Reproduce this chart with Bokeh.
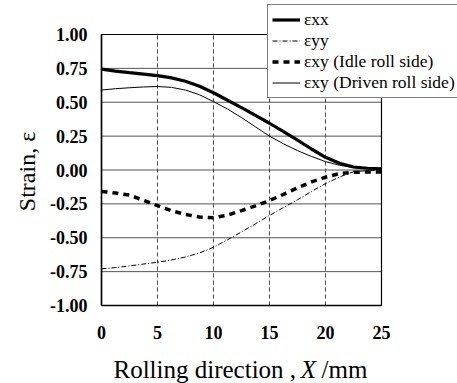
import math
from bokeh.plotting import figure
from bokeh.models import Range1d, Legend, LegendItem, Label, FixedTicker, CustomJSTickFormatter
from bokeh.embed import file_html
from bokeh.resources import INLINE

x = [0, 1.25, 2.5, 3.75, 5, 6.25, 7.5, 8.75, 10, 11.25, 12.5,
     13.75, 15, 16.25, 17.5, 18.75, 20, 21.25, 22.5, 23.75, 25]
exx = [0.744, 0.730, 0.718, 0.708, 0.697, 0.680, 0.655, 0.618, 0.570, 0.515, 0.460,
       0.403, 0.345, 0.283, 0.220, 0.155, 0.094, 0.050, 0.022, 0.013, 0.009]
eyy = [-0.729, -0.720, -0.708, -0.694, -0.681, -0.664, -0.642, -0.612, -0.570, -0.515, -0.457,
       -0.397, -0.335, -0.277, -0.220, -0.158, -0.100, -0.052, -0.012, -0.005, -0.003]
exy_idle = [-0.158, -0.170, -0.185, -0.224, -0.263, -0.300, -0.328, -0.347, -0.352, -0.333, -0.300,
            -0.265, -0.225, -0.180, -0.132, -0.088, -0.053, -0.027, -0.017, -0.015, -0.015]
exy_driven = [0.590, 0.600, 0.607, 0.613, 0.616, 0.610, 0.590, 0.555, 0.505, 0.450, 0.387,
              0.318, 0.250, 0.193, 0.143, 0.100, 0.062, 0.035, 0.018, 0.009, 0.005]

x_ticks = [0, 5, 10, 15, 20, 25]
y_ticks = [-1.0, -0.75, -0.5, -0.25, 0.0, 0.25, 0.5, 0.75, 1.0]
labels = ["εxx", "εyy", "εxy (Idle roll side)", "εxy (Driven roll side)"]

SERIF = "Liberation Serif"
x0, x1 = x_ticks[0], x_ticks[-1]
y0, y1 = y_ticks[0], y_ticks[-1]

# frame covers the whole canvas so the legend, tick labels and titles are not clipped
p = figure(width=457, height=383, output_backend="svg", toolbar_location=None,
           x_range=Range1d(-9.018, 31.786), y_range=Range1d(-1.5756, 1.2509),
           min_border_left=0, min_border_right=0, min_border_top=0, min_border_bottom=0)
p.outline_line_color = None
p.xgrid.visible = False
p.ygrid.visible = False

# grid lines bounded to the data box
gx = x_ticks[1:-1]
p.segment(x0=gx, y0=[y0] * len(gx), x1=gx, y1=[y1] * len(gx),
          line_color="#444444", line_width=1, line_dash="4 3")
gy = y_ticks[1:-1]
p.segment(x0=[x0] * len(gy), y0=gy, x1=[x1] * len(gy), y1=gy,
          line_color="#555555", line_width=1)
p.quad(left=x0, right=x1, bottom=y0, top=y1, fill_color=None,
       line_color="black", line_width=1.2)

r1 = p.line(x, exx, line_color="black", line_width=3.2)
r2 = p.line(x, eyy, line_color="black", line_width=1, line_dash="5 2 1 2")
r3 = p.line(x, exy_idle, line_color="black", line_width=3.5, line_dash="6 5")
r4 = p.line(x, exy_driven, line_color="black", line_width=1)

p.xaxis.ticker = FixedTicker(ticks=x_ticks)
p.yaxis.ticker = FixedTicker(ticks=y_ticks)
p.yaxis.formatter = CustomJSTickFormatter(code="return tick.toFixed(2);")
p.xaxis.bounds = (x0, x1)
p.yaxis.bounds = (y0, y1)
p.xaxis.fixed_location = y0
p.yaxis.fixed_location = x0

for ax in (p.xaxis[0], p.yaxis[0]):
    ax.major_tick_out = 0
    ax.major_tick_in = 0
    ax.minor_tick_out = 0
    ax.minor_tick_in = 0
    ax.axis_line_color = "black"
    ax.axis_line_width = 1.5
    ax.major_label_text_font = SERIF
    ax.major_label_text_font_size = "18px"
    ax.major_label_text_font_style = "bold"
    ax.major_label_text_color = "black"

p.xaxis.major_label_standoff = 20
p.yaxis.major_label_standoff = 14

# y axis title
p.add_layout(Label(x=-6.61, y=-0.011, text="Strain, ε", angle=math.pi / 2,
                   text_font=SERIF, text_font_size="24px", text_align="center",
                   text_baseline="middle", text_color="black"))

# x axis title with italic X
ylab = -1.5745
p.add_layout(Label(x=1.07, y=ylab, text="Rolling direction ,", text_font=SERIF,
                   text_font_size="25px", text_baseline="bottom", text_color="black"))
p.add_layout(Label(x=17.8, y=ylab, text="X", text_font=SERIF, text_font_style="italic",
                   text_font_size="25px", text_baseline="bottom", text_color="black"))
p.add_layout(Label(x=19.65, y=ylab, text="/mm", text_font=SERIF,
                   text_font_size="25px", text_baseline="bottom", text_color="black"))

legend = Legend(items=[LegendItem(label=l, renderers=[r]) for l, r in zip(labels, [r1, r2, r3, r4])],
                location=(267, 285))
legend.label_text_font = SERIF
legend.label_text_font_size = "17.5px"
legend.label_text_color = "black"
legend.glyph_width = 28
legend.glyph_height = 21
legend.label_height = 21
legend.spacing = 0
legend.padding = 4
legend.margin = 0
legend.label_standoff = 4
legend.border_line_color = "black"
legend.border_line_width = 1
legend.background_fill_color = "white"
legend.background_fill_alpha = 1
p.add_layout(legend, "center")

open("out.html", "w").write(file_html(p, INLINE))
